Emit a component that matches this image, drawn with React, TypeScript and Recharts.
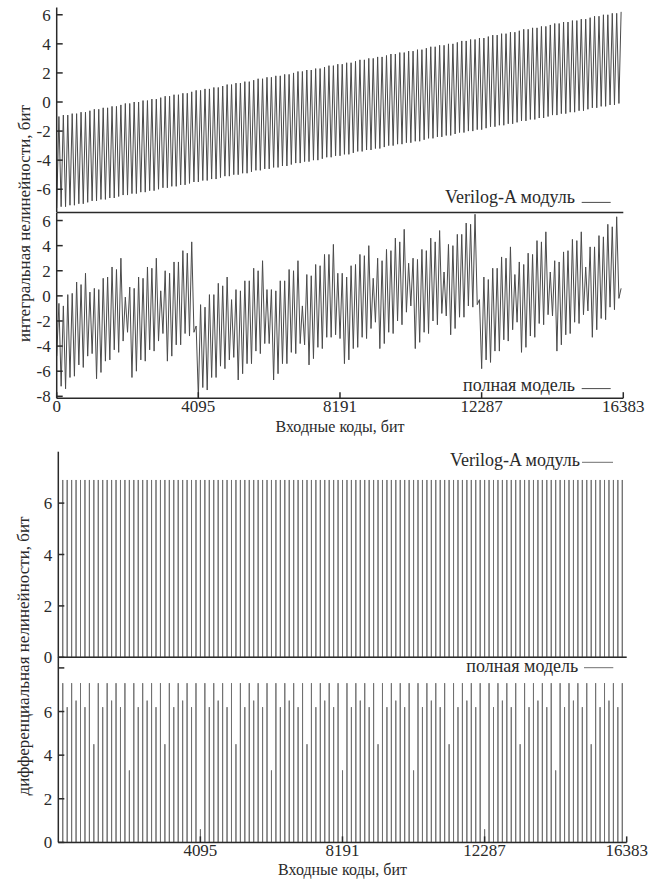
import { LineChart, Line, XAxis, YAxis, Legend } from "recharts"

// one sawtooth tooth / one DNL spike every 128 codes
const TOOTH = 128
const X_MAX = 16383

const inlXTicks = [0, 4095, 8191, 12287, 16383]
const dnlXTicks = [4095, 8191, 12287, 16383]
const inlTopYTicks = [-6, -4, -2, 0, 2, 4, 6]
const inlBottomYTicks = [-8, -6, -4, -2, 0, 2, 4, 6]
const dnlTopYTicks = [0, 2, 4, 6]
const dnlBottomYTicks = [0, 2, 4, 6, 8]

// INL, Verilog-A module: peak (high) and trough (low) of each tooth
const verilogInlHigh = [
  -1.0, -0.9, -0.9, -0.8, -0.8, -0.7, -0.7, -0.6, -0.5, -0.5, -0.4, -0.4, -0.3, -0.3, -0.2, -0.1,
  -0.1, 0.0, 0.0, 0.1, 0.1, 0.2, 0.2, 0.3, 0.4, 0.4, 0.5, 0.5, 0.6, 0.6, 0.7, 0.8,
  0.8, 0.9, 0.9, 1.0, 1.0, 1.1, 1.2, 1.2, 1.3, 1.3, 1.4, 1.4, 1.5, 1.6, 1.6, 1.7,
  1.7, 1.8, 1.8, 1.9, 1.9, 2.0, 2.1, 2.1, 2.2, 2.2, 2.3, 2.3, 2.4, 2.5, 2.5, 2.6,
  2.6, 2.7, 2.7, 2.8, 2.9, 2.9, 3.0, 3.0, 3.1, 3.1, 3.2, 3.3, 3.3, 3.4, 3.4, 3.5,
  3.5, 3.6, 3.6, 3.7, 3.8, 3.8, 3.9, 3.9, 4.0, 4.0, 4.1, 4.2, 4.2, 4.3, 4.3, 4.4,
  4.4, 4.5, 4.6, 4.6, 4.7, 4.7, 4.8, 4.8, 4.9, 5.0, 5.0, 5.1, 5.1, 5.2, 5.2, 5.3,
  5.4, 5.4, 5.5, 5.5, 5.6, 5.6, 5.7, 5.7, 5.8, 5.9, 5.9, 6.0, 6.0, 6.1, 6.1, 6.2,
]
const verilogInlLow = [
  -7.3, -7.2, -7.2, -7.1, -7.1, -7.0, -7.0, -6.9, -6.8, -6.8, -6.7, -6.7, -6.6, -6.6, -6.5, -6.4,
  -6.4, -6.3, -6.3, -6.2, -6.2, -6.1, -6.1, -6.0, -5.9, -5.9, -5.8, -5.8, -5.7, -5.7, -5.6, -5.5,
  -5.5, -5.4, -5.4, -5.3, -5.3, -5.2, -5.1, -5.1, -5.0, -5.0, -4.9, -4.9, -4.8, -4.7, -4.7, -4.6,
  -4.6, -4.5, -4.5, -4.4, -4.4, -4.3, -4.2, -4.2, -4.1, -4.1, -4.0, -4.0, -3.9, -3.8, -3.8, -3.7,
  -3.7, -3.6, -3.6, -3.5, -3.4, -3.4, -3.3, -3.3, -3.2, -3.2, -3.1, -3.0, -3.0, -2.9, -2.9, -2.8,
  -2.8, -2.7, -2.7, -2.6, -2.5, -2.5, -2.4, -2.4, -2.3, -2.3, -2.2, -2.1, -2.1, -2.0, -2.0, -1.9,
  -1.9, -1.8, -1.7, -1.7, -1.6, -1.6, -1.5, -1.5, -1.4, -1.3, -1.3, -1.2, -1.2, -1.1, -1.1, -1.0,
  -0.9, -0.9, -0.8, -0.8, -0.7, -0.7, -0.6, -0.6, -0.5, -0.4, -0.4, -0.3, -0.3, -0.2, -0.2, -0.1,
]

// INL, full model
const fullInlHigh = [
  -0.6, -0.8, 0.1, 0.2, 1.1, 0.9, 1.8, 0.3, 0.6, 0.5, 1.4, 1.5, 2.3, 2.1, 3.0, -0.1,
  0.7, 0.6, 1.5, 1.4, 2.3, 2.2, 3.0, 0.4, 2.0, 1.8, 2.7, 2.7, 3.6, 3.4, 4.3, -2.4,
  -0.7, -0.9, 0.1, 0.1, 1.0, 0.8, 1.5, -0.3, 0.5, 0.4, 1.2, 1.2, 2.2, 2.0, 2.8, 0.5,
  0.5, 0.4, 1.2, 1.2, 2.1, 2.0, 2.8, -0.8, 1.7, 1.6, 2.5, 2.4, 3.3, 3.3, 4.1, 1.8,
  1.8, 1.5, 2.4, 2.5, 3.3, 3.2, 4.0, 1.4, 3.0, 2.8, 3.7, 3.6, 4.6, 4.3, 5.3, 2.6,
  3.0, 2.9, 3.7, 3.6, 4.6, 4.3, 5.2, 1.9, 4.1, 4.0, 4.9, 4.9, 5.8, 5.7, 6.5, -0.3,
  1.5, 1.3, 2.2, 2.2, 3.1, 3.0, 3.9, 1.7, 2.7, 2.5, 3.4, 3.3, 4.4, 4.3, 5.1, 1.9,
  2.8, 2.7, 3.5, 3.6, 4.5, 4.4, 5.1, 2.3, 3.9, 3.9, 4.8, 4.7, 5.7, 5.5, 6.3, 0.6,
]
const fullInlLow = [
  -4.8, -7.2, -7.4, -6.5, -6.4, -5.5, -5.7, -4.8, -4.6, -6.6, -6.1, -5.2, -5.1, -4.3, -4.5, -3.6,
  -2.9, -6.5, -6.0, -5.1, -5.2, -4.3, -4.4, -3.6, -3.0, -5.2, -4.8, -3.9, -3.9, -3.0, -3.2, -2.9,
  -8.1, -7.3, -7.5, -6.5, -6.5, -5.6, -5.8, -5.1, -4.9, -6.7, -6.2, -5.4, -5.4, -4.4, -4.6, -3.8,
  -3.8, -6.7, -6.2, -5.4, -5.4, -4.5, -4.6, -3.8, -3.9, -5.5, -5.0, -4.1, -4.2, -3.3, -3.3, -3.1,
  -3.4, -5.4, -5.1, -4.2, -4.1, -3.3, -3.4, -2.6, -2.1, -4.2, -3.8, -2.9, -3.0, -2.0, -2.3, -1.3,
  -0.8, -4.2, -3.7, -2.9, -3.0, -2.0, -2.3, -1.4, -1.6, -3.1, -2.6, -1.7, -1.7, -0.8, -0.9, -0.7,
  -5.8, -5.1, -5.3, -4.4, -4.4, -3.5, -3.6, -2.7, -2.1, -4.5, -4.1, -3.2, -3.3, -2.2, -2.3, -1.5,
  -1.6, -4.4, -3.9, -3.1, -3.0, -2.1, -2.2, -1.5, -1.2, -3.3, -2.7, -1.8, -1.9, -0.9, -1.1, -0.2,
]

// DNL spikes at codes 128, 256, ... 16256
const verilogDnl = [
  6.9, 6.9, 6.9, 6.9, 6.9, 6.9, 6.9, 6.9, 6.9, 6.9, 6.9, 6.9, 6.9, 6.9, 6.9, 6.9,
  6.9, 6.9, 6.9, 6.9, 6.9, 6.9, 6.9, 6.9, 6.9, 6.9, 6.9, 6.9, 6.9, 6.9, 6.9, 6.9,
  6.9, 6.9, 6.9, 6.9, 6.9, 6.9, 6.9, 6.9, 6.9, 6.9, 6.9, 6.9, 6.9, 6.9, 6.9, 6.9,
  6.9, 6.9, 6.9, 6.9, 6.9, 6.9, 6.9, 6.9, 6.9, 6.9, 6.9, 6.9, 6.9, 6.9, 6.9, 6.9,
  6.9, 6.9, 6.9, 6.9, 6.9, 6.9, 6.9, 6.9, 6.9, 6.9, 6.9, 6.9, 6.9, 6.9, 6.9, 6.9,
  6.9, 6.9, 6.9, 6.9, 6.9, 6.9, 6.9, 6.9, 6.9, 6.9, 6.9, 6.9, 6.9, 6.9, 6.9, 6.9,
  6.9, 6.9, 6.9, 6.9, 6.9, 6.9, 6.9, 6.9, 6.9, 6.9, 6.9, 6.9, 6.9, 6.9, 6.9, 6.9,
  6.9, 6.9, 6.9, 6.9, 6.9, 6.9, 6.9, 6.9, 6.9, 6.9, 6.9, 6.9, 6.9, 6.9, 6.9,
]
const fullDnl = [
  7.3, 6.2, 7.3, 6.5, 7.3, 6.2, 7.3, 4.5, 7.3, 6.2, 7.3, 6.5, 7.3, 6.2, 7.3, 3.3,
  7.3, 6.2, 7.3, 6.5, 7.3, 6.2, 7.3, 4.5, 7.3, 6.2, 7.3, 6.5, 7.3, 6.2, 7.3, 0.6,
  7.3, 6.2, 7.3, 6.5, 7.3, 6.2, 7.3, 4.5, 7.3, 6.2, 7.3, 6.5, 7.3, 6.2, 7.3, 3.3,
  7.3, 6.2, 7.3, 6.5, 7.3, 6.2, 7.3, 4.5, 7.3, 6.2, 7.3, 6.5, 7.3, 6.2, 7.3, 3.3,
  7.3, 6.2, 7.3, 6.5, 7.3, 6.2, 7.3, 4.5, 7.3, 6.2, 7.3, 6.5, 7.3, 6.2, 7.3, 3.3,
  7.3, 6.2, 7.3, 6.5, 7.3, 6.2, 7.3, 4.5, 7.3, 6.2, 7.3, 6.5, 7.3, 6.2, 7.3, 0.6,
  7.3, 6.2, 7.3, 6.5, 7.3, 6.2, 7.3, 4.5, 7.3, 6.2, 7.3, 6.5, 7.3, 6.2, 7.3, 3.3,
  7.3, 6.2, 7.3, 6.5, 7.3, 6.2, 7.3, 4.5, 7.3, 6.2, 7.3, 6.5, 7.3, 6.2, 7.3,
]

const INK = "#2a2a2a"
const INL_TRACE = "#4a4a4a"
const DNL_TRACE = "#707070"

// zigzag: trough at the start of each tooth, peak in its middle
function zigzag(low: number[], high: number[]) {
  const pts: { code: number; v: number }[] = []
  const n = Math.min(low.length, high.length)
  for (let k = 0; k < n; k++) {
    pts.push({ code: k * TOOTH, v: low[k] })
    pts.push({ code: k * TOOTH + TOOTH / 2, v: high[k] })
  }
  return pts
}

function spikes(vals: number[]) {
  const pts = [{ code: 0, v: 0 }]
  vals.forEach((v, i) => {
    const c = (i + 1) * TOOTH
    pts.push({ code: c, v: 0 }, { code: c, v }, { code: c, v: 0 })
  })
  pts.push({ code: X_MAX, v: 0 })
  return pts
}

interface PanelProps {
  data: { code: number; v: number }[]
  name: string
  trace: string
  pageTop: number
  plotTop: number
  plotBottom: number
  plotLeft: number
  plotRight: number
  bottomSpace: number
  yDomain: [number, number]
  yTicks: number[]
  hideYLabel?: number
  xTicks: number[]
  xLabels?: boolean
  xTitle?: string
  titleOffset?: number
  legendRight: number
  legendBaseline: number
  legendLineY: number
  legendX1: number
  legendX2: number
}

function Panel(p: PanelProps) {
  const height = p.plotBottom - p.pageTop + p.bottomSpace
  const frame = { stroke: INK, strokeWidth: 1.5 }
  const legendTop = p.legendBaseline - 18
  const tickFont = { fill: INK, fontSize: 17 }

  const renderLegend = (props: any) => {
    const label = props?.payload?.[0]?.value ?? p.name
    return (
      <svg width={657} height={26} style={{ display: "block" }}>
        <text x={p.legendRight} y={18} textAnchor="end" fill={INK} fontSize={18}>
          {label}
        </text>
        <line x1={p.legendX1} x2={p.legendX2} y1={p.legendLineY - legendTop} y2={p.legendLineY - legendTop}
          stroke={p.trace} strokeWidth={1} />
      </svg>
    )
  }

  return (
    <div style={{ position: "absolute", left: 0, top: p.pageTop }}>
      <LineChart
        width={657}
        height={height}
        data={p.data}
        margin={{ top: p.plotTop - p.pageTop, right: 657 - p.plotRight, bottom: 0, left: 0 }}
      >
        <XAxis
          xAxisId="b"
          dataKey="code"
          type="number"
          domain={[0, X_MAX]}
          allowDataOverflow
          ticks={p.xTicks}
          interval={0}
          height={p.bottomSpace}
          tickSize={-6}
          tickMargin={8}
          axisLine={frame}
          tickLine={frame}
          tick={p.xLabels ? tickFont : false}
          label={p.xTitle ? { value: p.xTitle, position: "insideBottom", offset: p.titleOffset ?? 20, fill: INK, fontSize: 16 } : undefined}
        />
        <XAxis
          xAxisId="t"
          orientation="top"
          type="number"
          domain={[0, X_MAX]}
          allowDataOverflow
          ticks={p.xTicks}
          interval={0}
          height={0}
          tickSize={-6}
          axisLine={frame}
          tickLine={frame}
          tick={false}
        />
        <YAxis
          yAxisId="l"
          type="number"
          domain={p.yDomain}
          allowDataOverflow
          ticks={p.yTicks}
          interval={0}
          width={p.plotLeft}
          tickSize={-6}
          tickMargin={12}
          axisLine={frame}
          tickLine={frame}
          tick={tickFont}
          tickFormatter={(v: number) => (v === p.hideYLabel ? "" : String(v))}
        />
        <YAxis
          yAxisId="r"
          orientation="right"
          type="number"
          domain={p.yDomain}
          allowDataOverflow
          ticks={p.yTicks}
          interval={0}
          width={0}
          tickSize={-6}
          axisLine={frame}
          tickLine={frame}
          tick={false}
        />
        <Legend
          layout="vertical"
          align="center"
          verticalAlign="middle"
          wrapperStyle={{ left: 0, top: legendTop, width: 657, height: 26, pointerEvents: "none" }}
          content={renderLegend}
        />
        <Line
          xAxisId="b"
          yAxisId="l"
          dataKey="v"
          name={p.name}
          type="linear"
          stroke={p.trace}
          strokeWidth={1}
          dot={false}
          activeDot={false}
          isAnimationActive={false}
        />
      </LineChart>
    </div>
  )
}

export default function App() {
  const verilogInl = zigzag(verilogInlLow, verilogInlHigh)
  const fullInl = zigzag(fullInlLow, fullInlHigh)
  const verilogDnlPts = spikes(verilogDnl)
  const fullDnlPts = spikes(fullDnl)

  return (
    <div className="nl-fig" style={{ position: "absolute", left: 0, top: 0, width: 657, height: 879, background: "#fff" }}>
      <style>{`.nl-fig, .nl-fig text { font-family: "Liberation Serif", "DejaVu Serif", serif; }`}</style>
      <Panel
        data={verilogInl}
        name="Verilog-A модуль"
        trace={INL_TRACE}
        pageTop={0}
        plotTop={7.5}
        plotBottom={212.5}
        plotLeft={56.7}
        plotRight={623.3}
        bottomSpace={2}
        yDomain={[-7.6, 6.5]}
        yTicks={inlTopYTicks}
        xTicks={inlXTicks}
        legendRight={575}
        legendBaseline={203.3}
        legendLineY={202.7}
        legendX1={581.7}
        legendX2={610.7}
      />
      <Panel
        data={fullInl}
        name="полная модель"
        trace={INL_TRACE}
        pageTop={210.5}
        plotTop={212.5}
        plotBottom={397.7}
        plotLeft={56.7}
        plotRight={623.3}
        bottomSpace={50}
        yDomain={[-8.15, 6.6]}
        yTicks={inlBottomYTicks}
        xTicks={inlXTicks}
        xLabels
        xTitle="Входные коды, бит"
        titleOffset={16}
        legendRight={575}
        legendBaseline={390.7 - 210.5}
        legendLineY={388.3 - 210.5}
        legendX1={581.7}
        legendX2={610.7}
      />
      <Panel
        data={verilogDnlPts}
        name="Verilog-A модуль"
        trace={DNL_TRACE}
        pageTop={440}
        plotTop={451.7}
        plotBottom={657.3}
        plotLeft={58.3}
        plotRight={626.7}
        bottomSpace={12}
        yDomain={[0, 8]}
        yTicks={dnlTopYTicks}
        xTicks={dnlXTicks}
        legendRight={580}
        legendBaseline={466 - 440}
        legendLineY={462.3 - 440}
        legendX1={582}
        legendX2={613}
      />
      <Panel
        data={fullDnlPts}
        name="полная модель"
        trace={DNL_TRACE}
        pageTop={655.3}
        plotTop={657.3}
        plotBottom={842.7}
        plotLeft={58.3}
        plotRight={626.7}
        bottomSpace={36}
        yDomain={[0, 8.5]}
        yTicks={dnlBottomYTicks}
        hideYLabel={8}
        xTicks={dnlXTicks}
        xLabels
        xTitle="Входные коды, бит"
        titleOffset={3}
        legendRight={578.3}
        legendBaseline={672.3 - 655.3}
        legendLineY={668 - 655.3}
        legendX1={584}
        legendX2={613.3}
      />
      <svg width={40} height={879} style={{ position: "absolute", left: 0, top: 0 }}>
        <text transform="translate(30,223.5) rotate(-90)" textAnchor="middle" fill={INK} fontSize={17}>
          интегральная нелинейности, бит
        </text>
        <text transform="translate(29,656) rotate(-90)" textAnchor="middle" fill={INK} fontSize={17}>
          дифференциальная нелинейности, бит
        </text>
      </svg>
    </div>
  )
}
